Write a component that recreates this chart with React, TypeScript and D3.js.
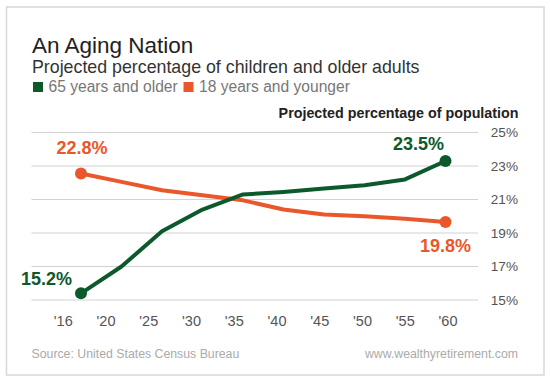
import React from "react";
import * as d3 from "d3";

const yearLabels = ["'16", "'20", "'25", "'30", "'35", "'40", "'45", "'50", "'55", "'60"];
const older = [15.4, 17.0, 19.1, 20.4, 21.3, 21.45, 21.65, 21.85, 22.2, 23.3];
const younger = [22.55, 22.05, 21.55, 21.25, 20.95, 20.4, 20.1, 20.0, 19.85, 19.65];
const yTicks = [15, 17, 19, 21, 23, 25];
const olderLabels = ["15.2%", "23.5%"];
const youngerLabels = ["22.8%", "19.8%"];

const GREEN = "#0c5a2b";
const ORANGE = "#e9572b";
const FONT = "'Liberation Sans', Arial, Helvetica, sans-serif";

export default function App() {
  const W = 550, H = 381;
  const idx = d3.range(yearLabels.length);
  const x = d3.scalePoint<number>().domain(idx).range([81, 445.5]);
  const xl = d3.scalePoint<string>().domain(yearLabels).range([63.3, 448]);
  const y = d3.scaleLinear().domain([15, 25]).range([300, 132.5]);
  const line = d3.line<number>().x((_, i) => x(i) as number).y((d) => y(d)).curve(d3.curveLinear);
  const last = yearLabels.length - 1;

  return (
    <svg width={W} height={H} style={{ position: "absolute", left: 0, top: 0 }} fontFamily={FONT}>
      <rect x={0} y={0} width={W} height={H} fill="#fff" />
      <rect x={6.5} y={7} width={537.5} height={368} fill="#fff" stroke="#d8d8d8" strokeWidth={1.5} />
      <text x={32} y={53} fontSize={22.5} fill="#222">An Aging Nation</text>
      <text x={32} y={73} fontSize={17.8} fill="#333">Projected percentage of children and older adults</text>
      <rect x={33} y={82} width={10} height={10} fill={GREEN} />
      <text x={48.5} y={92} fontSize={15.6} fill="#777">65 years and older</text>
      <rect x={183.5} y={82} width={10} height={10} fill={ORANGE} />
      <text x={199} y={92} fontSize={15.6} fill="#777">18 years and younger</text>
      <text x={518.5} y={118} fontSize={14.3} fontWeight="bold" fill="#222" textAnchor="end">Projected percentage of population</text>
      {yTicks.map((t) => (
        <g key={t}>
          <line x1={31.5} x2={478} y1={y(t)} y2={y(t)} stroke="#d2d2d2" strokeWidth={1.2} />
          <text x={518} y={y(t)} dy="0.36em" fontSize={13.6} fill="#555" textAnchor="end">{t}%</text>
        </g>
      ))}
      {yearLabels.map((l) => (
        <text key={l} x={xl(l)} y={326} fontSize={14.5} fill="#555" textAnchor="middle">{l}</text>
      ))}
      <path d={line(younger) || ""} fill="none" stroke={ORANGE} strokeWidth={4} strokeLinejoin="round" />
      <path d={line(older) || ""} fill="none" stroke={GREEN} strokeWidth={4} strokeLinejoin="round" />
      <circle cx={x(0)} cy={y(younger[0])} r={6} fill={ORANGE} />
      <circle cx={x(last)} cy={y(younger[last])} r={6} fill={ORANGE} />
      <circle cx={x(0)} cy={y(older[0])} r={6} fill={GREEN} />
      <circle cx={x(last)} cy={y(older[last])} r={6} fill={GREEN} />
      <text x={(x(0) as number) + 1} y={y(younger[0]) - 20} fontSize={18} fontWeight="bold" fill={ORANGE} textAnchor="middle">{youngerLabels[0]}</text>
      <text x={(x(last) as number) + 0} y={y(younger[last]) + 30} fontSize={18} fontWeight="bold" fill={ORANGE} textAnchor="middle">{youngerLabels[1]}</text>
      <text x={(x(0) as number) - 9} y={y(older[0]) - 8} fontSize={18} fontWeight="bold" fill={GREEN} textAnchor="end">{olderLabels[0]}</text>
      <text x={(x(last) as number) - 1.5} y={y(older[last]) - 11} fontSize={18} fontWeight="bold" fill={GREEN} textAnchor="end">{olderLabels[1]}</text>
      <text x={31.5} y={358} fontSize={12.3} fill="#aaa">Source: United States Census Bureau</text>
      <text x={518} y={358} fontSize={12.3} fill="#aaa" textAnchor="end">www.wealthyretirement.com</text>
    </svg>
  );
}
